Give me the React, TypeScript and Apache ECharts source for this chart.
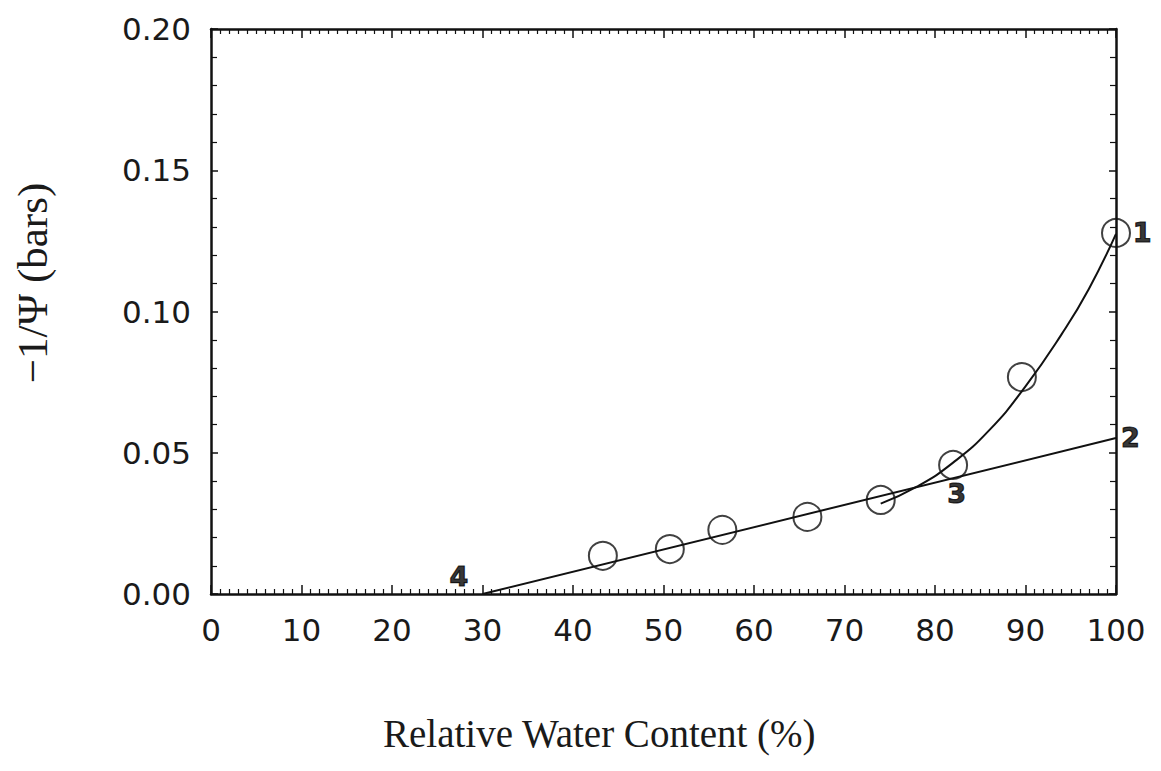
import React, { useEffect, useRef } from "react";
import * as echarts from "echarts";

const xTicks = [0, 10, 20, 30, 40, 50, 60, 70, 80, 90, 100];
const yTicks = [0, 0.05, 0.1, 0.15, 0.2];

// measured points (relative water content %, -1/psi bars)
const observed: [number, number][] = [
  [43.3, 0.0135],
  [50.7, 0.0159],
  [56.5, 0.0227],
  [65.9, 0.0273],
  [74.0, 0.0333],
  [82.0, 0.0457],
  [89.6, 0.0768],
  [100.0, 0.1278],
];

// curved fit through upper points
const curve: [number, number][] = [
  [74.0, 0.032],
  [78.0, 0.038],
  [82.0, 0.0465],
  [86.0, 0.058],
  [90.0, 0.0735],
  [94.0, 0.092],
  [97.0, 0.108],
  [100.0, 0.1275],
];

// straight line through lower points
const linear: [number, number][] = [
  [30.0, 0.0],
  [100.0, 0.0552],
];

const annotationLabels = ["1", "2", "3", "4"];
const annotationPoints: [number, number][] = [
  [102.9, 0.128],
  [101.6, 0.0555],
  [82.4, 0.0357],
  [27.4, 0.0062],
];

const xTitle = "Relative Water Content (%)";
const yTitle = "−1/Ψ (bars)";

export default function App() {
  const ref = useRef<HTMLDivElement>(null);
  useEffect(() => {
    document.body.style.margin = "0";
    const chart = echarts.init(ref.current!, null, { renderer: "svg" });
    const tickFont = {
      fontFamily: "DejaVu Sans",
      fontSize: 31,
      color: "#1a1a1a",
    };
    const axisLine = { show: true, onZero: false, lineStyle: { color: "#111", width: 2.5 } };
    const xTick = { show: true, inside: true, length: 9, lineStyle: { color: "#111", width: 1.5 } };
    const xMinor = { show: true, splitNumber: 10, length: 5, lineStyle: { color: "#111", width: 1.2 } };
    const yTick = { show: true, inside: true, length: 7, lineStyle: { color: "#111", width: 1.5 } };
    const yMinor = { show: true, splitNumber: 5, length: 6, lineStyle: { color: "#111", width: 1.2 } };
    chart.setOption({
      animation: false,
      backgroundColor: "#ffffff",
      grid: { left: 211, right: 45, top: 29, bottom: 177, containLabel: false },
      xAxis: [
        {
          type: "value",
          min: 0,
          max: 100,
          interval: 10,
          position: "bottom",
          axisLine,
          axisTick: xTick,
          minorTick: xMinor,
          splitLine: { show: false },
          axisLabel: {
            ...tickFont,
            margin: 20,
            formatter: (v: number) => (xTicks.includes(v) ? String(v) : ""),
          },
        },
        {
          type: "value",
          min: 0,
          max: 100,
          interval: 10,
          position: "top",
          axisLine,
          axisTick: xTick,
          minorTick: xMinor,
          splitLine: { show: false },
          axisLabel: { show: false },
        },
      ],
      yAxis: [
        {
          type: "value",
          min: 0,
          max: 0.2,
          interval: 0.05,
          position: "left",
          axisLine,
          axisTick: yTick,
          minorTick: yMinor,
          splitLine: { show: false },
          axisLabel: {
            ...tickFont,
            margin: 20,
            formatter: (v: number) => (yTicks.some((t) => Math.abs(t - v) < 1e-9) ? v.toFixed(2) : ""),
          },
        },
        {
          type: "value",
          min: 0,
          max: 0.2,
          interval: 0.05,
          position: "right",
          axisLine,
          axisTick: yTick,
          minorTick: yMinor,
          splitLine: { show: false },
          axisLabel: { show: false },
        },
      ],
      series: [
        {
          name: "linear",
          type: "line",
          data: linear,
          showSymbol: false,
          symbol: "none",
          lineStyle: { color: "#111", width: 2 },
          z: 3,
        },
        {
          name: "curve",
          type: "line",
          data: curve,
          smooth: 0.5,
          showSymbol: false,
          symbol: "none",
          lineStyle: { color: "#111", width: 2 },
          z: 3,
        },
        {
          name: "observed",
          type: "scatter",
          data: observed,
          symbol: "circle",
          symbolSize: 28,
          itemStyle: { color: "rgba(0,0,0,0)", borderColor: "#111", borderWidth: 2 },
          clip: false,
          z: 4,
        },
        {
          name: "annotations",
          type: "scatter",
          data: annotationPoints.map((p, i) => ({ value: p, name: annotationLabels[i] })),
          symbolSize: 1,
          itemStyle: { color: "rgba(0,0,0,0)" },
          clip: false,
          label: {
            show: true,
            position: "inside",
            formatter: (p: any) => p.name,
            fontFamily: "DejaVu Sans",
            fontWeight: "bold",
            fontSize: 27,
            color: "#000",
            textBorderColor: "#000",
            textBorderWidth: 1.2,
          },
          z: 5,
        },
      ],
      graphic: [
        {
          type: "text",
          left: 383,
          top: 714,
          style: {
            text: xTitle,
            font: "39px 'Liberation Serif'",
            fill: "#1a1a1a",
          },
        },
        {
          type: "text",
          x: 32,
          y: 283,
          rotation: Math.PI / 2,
          style: {
            text: yTitle,
            font: "43px 'Liberation Serif'",
            fill: "#1a1a1a",
            align: "center",
            verticalAlign: "middle",
          },
        },
      ],
    });
    return () => chart.dispose();
  }, []);
  return <div ref={ref} style={{ width: 1161, height: 771 }} />;
}
